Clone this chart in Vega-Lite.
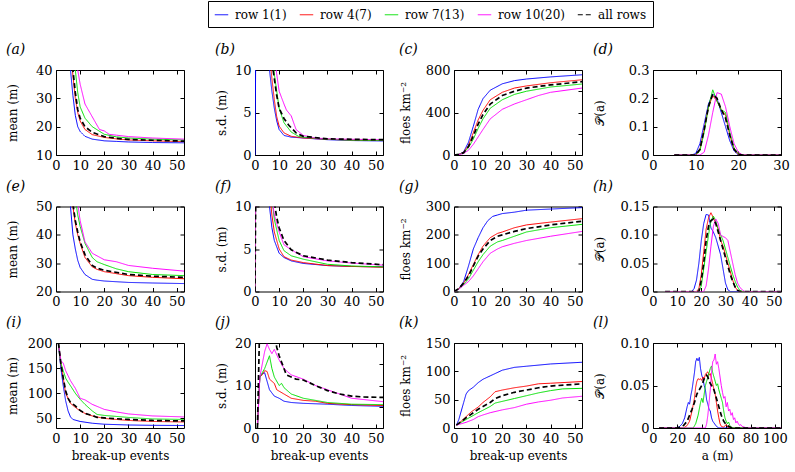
{
"$schema":"https://vega.github.io/schema/vega-lite/v6.json",
"background":"white",
"padding":{"left":5,"top":0,"right":0,"bottom":0},
"columns":4,
"bounds":"flush",
"spacing":{"row":51.5,"column":71},
"datasets":{
"a":[
{"s":"row 1(1)","x":5,"y":60},{"s":"row 1(1)","x":6,"y":40},{"s":"row 1(1)","x":7,"y":31},{"s":"row 1(1)","x":8,"y":24},{"s":"row 1(1)","x":9,"y":20},{"s":"row 1(1)","x":10,"y":18.3},{"s":"row 1(1)","x":12,"y":16.6},{"s":"row 1(1)","x":15,"y":15.6},{"s":"row 1(1)","x":20,"y":15.0},{"s":"row 1(1)","x":25,"y":14.8},{"s":"row 1(1)","x":30,"y":14.6},{"s":"row 1(1)","x":40,"y":14.4},{"s":"row 1(1)","x":53,"y":14.3},
{"s":"row 4(7)","x":5,"y":70},{"s":"row 4(7)","x":6,"y":48},{"s":"row 4(7)","x":7,"y":38},{"s":"row 4(7)","x":8,"y":30},{"s":"row 4(7)","x":9,"y":25},{"s":"row 4(7)","x":10,"y":22},{"s":"row 4(7)","x":12,"y":19},{"s":"row 4(7)","x":15,"y":17.2},{"s":"row 4(7)","x":20,"y":16.2},{"s":"row 4(7)","x":25,"y":15.7},{"s":"row 4(7)","x":30,"y":15.3},{"s":"row 4(7)","x":40,"y":15.0},{"s":"row 4(7)","x":53,"y":14.7},
{"s":"row 7(13)","x":6,"y":70},{"s":"row 7(13)","x":7,"y":50},{"s":"row 7(13)","x":8,"y":40},{"s":"row 7(13)","x":9,"y":32},{"s":"row 7(13)","x":10,"y":27},{"s":"row 7(13)","x":12,"y":23},{"s":"row 7(13)","x":15,"y":20},{"s":"row 7(13)","x":20,"y":17.3},{"s":"row 7(13)","x":25,"y":16.4},{"s":"row 7(13)","x":30,"y":16.0},{"s":"row 7(13)","x":40,"y":15.6},{"s":"row 7(13)","x":53,"y":15.3},
{"s":"row 10(20)","x":7,"y":70},{"s":"row 10(20)","x":8,"y":50},{"s":"row 10(20)","x":9,"y":40},{"s":"row 10(20)","x":10,"y":35},{"s":"row 10(20)","x":12,"y":28},{"s":"row 10(20)","x":14,"y":25},{"s":"row 10(20)","x":16,"y":22},{"s":"row 10(20)","x":18,"y":19},{"s":"row 10(20)","x":20,"y":18.5},{"s":"row 10(20)","x":22,"y":17.3},{"s":"row 10(20)","x":25,"y":17},{"s":"row 10(20)","x":30,"y":16.5},{"s":"row 10(20)","x":40,"y":16},{"s":"row 10(20)","x":53,"y":15.6},
{"s":"all rows","x":5,"y":72},{"s":"all rows","x":6,"y":50},{"s":"all rows","x":7,"y":40},{"s":"all rows","x":8,"y":32},{"s":"all rows","x":9,"y":26},{"s":"all rows","x":10,"y":23},{"s":"all rows","x":12,"y":20},{"s":"all rows","x":15,"y":18},{"s":"all rows","x":20,"y":16.5},{"s":"all rows","x":25,"y":15.9},{"s":"all rows","x":30,"y":15.5},{"s":"all rows","x":40,"y":15.2},{"s":"all rows","x":53,"y":14.9}
],
"b":[
{"s":"row 1(1)","x":0,"y":0},{"s":"row 1(1)","x":1,"y":40},{"s":"row 1(1)","x":5,"y":14},{"s":"row 1(1)","x":6,"y":10},{"s":"row 1(1)","x":7,"y":7.5},{"s":"row 1(1)","x":8,"y":5.5},{"s":"row 1(1)","x":9,"y":4},{"s":"row 1(1)","x":10,"y":3.0},{"s":"row 1(1)","x":12,"y":2.3},{"s":"row 1(1)","x":15,"y":2.1},{"s":"row 1(1)","x":20,"y":2.0},{"s":"row 1(1)","x":30,"y":1.8},{"s":"row 1(1)","x":40,"y":1.7},{"s":"row 1(1)","x":53,"y":1.65},
{"s":"row 4(7)","x":1,"y":40},{"s":"row 4(7)","x":6,"y":12},{"s":"row 4(7)","x":7,"y":9},{"s":"row 4(7)","x":8,"y":6.5},{"s":"row 4(7)","x":9,"y":4.5},{"s":"row 4(7)","x":10,"y":3.4},{"s":"row 4(7)","x":12,"y":2.6},{"s":"row 4(7)","x":15,"y":2.2},{"s":"row 4(7)","x":20,"y":2.0},{"s":"row 4(7)","x":30,"y":1.85},{"s":"row 4(7)","x":40,"y":1.75},{"s":"row 4(7)","x":53,"y":1.7},
{"s":"row 7(13)","x":1,"y":40},{"s":"row 7(13)","x":7,"y":12},{"s":"row 7(13)","x":8,"y":9.5},{"s":"row 7(13)","x":9,"y":7.5},{"s":"row 7(13)","x":10,"y":5.5},{"s":"row 7(13)","x":12,"y":3.8},{"s":"row 7(13)","x":15,"y":2.7},{"s":"row 7(13)","x":18,"y":2.2},{"s":"row 7(13)","x":20,"y":2.1},{"s":"row 7(13)","x":30,"y":1.85},{"s":"row 7(13)","x":40,"y":1.75},{"s":"row 7(13)","x":53,"y":1.7},
{"s":"row 10(20)","x":1,"y":40},{"s":"row 10(20)","x":8,"y":12},{"s":"row 10(20)","x":9,"y":9.5},{"s":"row 10(20)","x":10,"y":7.5},{"s":"row 10(20)","x":12,"y":6},{"s":"row 10(20)","x":13,"y":5.3},{"s":"row 10(20)","x":15,"y":4.6},{"s":"row 10(20)","x":17,"y":3},{"s":"row 10(20)","x":20,"y":2.3},{"s":"row 10(20)","x":25,"y":2.0},{"s":"row 10(20)","x":30,"y":1.9},{"s":"row 10(20)","x":40,"y":1.85},{"s":"row 10(20)","x":53,"y":1.8},
{"s":"all rows","x":1,"y":40},{"s":"all rows","x":7,"y":11},{"s":"all rows","x":8,"y":9},{"s":"all rows","x":9,"y":7},{"s":"all rows","x":10,"y":5.5},{"s":"all rows","x":12,"y":4.3},{"s":"all rows","x":14,"y":3.5},{"s":"all rows","x":17,"y":2.6},{"s":"all rows","x":20,"y":2.2},{"s":"all rows","x":30,"y":1.9},{"s":"all rows","x":40,"y":1.85},{"s":"all rows","x":53,"y":1.8}
],
"c":[
{"s":"row 1(1)","x":0,"y":0},{"s":"row 1(1)","x":2,"y":5},{"s":"row 1(1)","x":4,"y":30},{"s":"row 1(1)","x":6,"y":120},{"s":"row 1(1)","x":8,"y":270},{"s":"row 1(1)","x":10,"y":430},{"s":"row 1(1)","x":12,"y":530},{"s":"row 1(1)","x":15,"y":610},{"s":"row 1(1)","x":20,"y":670},{"s":"row 1(1)","x":25,"y":700},{"s":"row 1(1)","x":30,"y":715},{"s":"row 1(1)","x":40,"y":735},{"s":"row 1(1)","x":53,"y":755},
{"s":"row 4(7)","x":0,"y":0},{"s":"row 4(7)","x":2,"y":5},{"s":"row 4(7)","x":4,"y":25},{"s":"row 4(7)","x":6,"y":90},{"s":"row 4(7)","x":8,"y":210},{"s":"row 4(7)","x":10,"y":330},{"s":"row 4(7)","x":12,"y":420},{"s":"row 4(7)","x":15,"y":520},{"s":"row 4(7)","x":20,"y":590},{"s":"row 4(7)","x":25,"y":630},{"s":"row 4(7)","x":30,"y":650},{"s":"row 4(7)","x":40,"y":680},{"s":"row 4(7)","x":53,"y":708},
{"s":"row 7(13)","x":0,"y":0},{"s":"row 7(13)","x":2,"y":4},{"s":"row 7(13)","x":4,"y":20},{"s":"row 7(13)","x":6,"y":70},{"s":"row 7(13)","x":8,"y":150},{"s":"row 7(13)","x":10,"y":250},{"s":"row 7(13)","x":12,"y":340},{"s":"row 7(13)","x":15,"y":440},{"s":"row 7(13)","x":20,"y":520},{"s":"row 7(13)","x":25,"y":570},{"s":"row 7(13)","x":30,"y":600},{"s":"row 7(13)","x":40,"y":640},{"s":"row 7(13)","x":53,"y":668},
{"s":"row 10(20)","x":0,"y":0},{"s":"row 10(20)","x":2,"y":3},{"s":"row 10(20)","x":4,"y":15},{"s":"row 10(20)","x":6,"y":45},{"s":"row 10(20)","x":8,"y":100},{"s":"row 10(20)","x":10,"y":170},{"s":"row 10(20)","x":12,"y":240},{"s":"row 10(20)","x":15,"y":340},{"s":"row 10(20)","x":20,"y":430},{"s":"row 10(20)","x":25,"y":480},{"s":"row 10(20)","x":30,"y":520},{"s":"row 10(20)","x":35,"y":560},{"s":"row 10(20)","x":40,"y":590},{"s":"row 10(20)","x":53,"y":630},
{"s":"all rows","x":0,"y":0},{"s":"all rows","x":2,"y":5},{"s":"all rows","x":4,"y":22},{"s":"all rows","x":6,"y":80},{"s":"all rows","x":8,"y":180},{"s":"all rows","x":10,"y":290},{"s":"all rows","x":12,"y":380},{"s":"all rows","x":15,"y":480},{"s":"all rows","x":20,"y":560},{"s":"all rows","x":25,"y":600},{"s":"all rows","x":30,"y":630},{"s":"all rows","x":40,"y":660},{"s":"all rows","x":53,"y":690}
],
"d":[
{"s":"row 1(1)","x":5,"y":0},{"s":"row 1(1)","x":9,"y":0},{"s":"row 1(1)","x":10,"y":0.005},{"s":"row 1(1)","x":11,"y":0.04},{"s":"row 1(1)","x":12,"y":0.11},{"s":"row 1(1)","x":13,"y":0.18},{"s":"row 1(1)","x":14,"y":0.215},{"s":"row 1(1)","x":15,"y":0.2},{"s":"row 1(1)","x":16,"y":0.15},{"s":"row 1(1)","x":17,"y":0.1},{"s":"row 1(1)","x":18,"y":0.05},{"s":"row 1(1)","x":19,"y":0.015},{"s":"row 1(1)","x":20,"y":0},{"s":"row 1(1)","x":30,"y":0},
{"s":"row 4(7)","x":5,"y":0},{"s":"row 4(7)","x":10,"y":0},{"s":"row 4(7)","x":11,"y":0.02},{"s":"row 4(7)","x":12,"y":0.09},{"s":"row 4(7)","x":13,"y":0.17},{"s":"row 4(7)","x":14,"y":0.21},{"s":"row 4(7)","x":15,"y":0.19},{"s":"row 4(7)","x":16,"y":0.16},{"s":"row 4(7)","x":17,"y":0.14},{"s":"row 4(7)","x":18,"y":0.07},{"s":"row 4(7)","x":19,"y":0.02},{"s":"row 4(7)","x":20,"y":0.002},{"s":"row 4(7)","x":21,"y":0},{"s":"row 4(7)","x":30,"y":0},
{"s":"row 7(13)","x":5,"y":0},{"s":"row 7(13)","x":10,"y":0},{"s":"row 7(13)","x":11,"y":0.015},{"s":"row 7(13)","x":12,"y":0.08},{"s":"row 7(13)","x":13,"y":0.17},{"s":"row 7(13)","x":14,"y":0.23},{"s":"row 7(13)","x":15,"y":0.19},{"s":"row 7(13)","x":16,"y":0.16},{"s":"row 7(13)","x":17,"y":0.15},{"s":"row 7(13)","x":18,"y":0.08},{"s":"row 7(13)","x":19,"y":0.025},{"s":"row 7(13)","x":20,"y":0.005},{"s":"row 7(13)","x":21,"y":0},{"s":"row 7(13)","x":30,"y":0},
{"s":"row 10(20)","x":5,"y":0},{"s":"row 10(20)","x":11,"y":0},{"s":"row 10(20)","x":12,"y":0.01},{"s":"row 10(20)","x":13,"y":0.07},{"s":"row 10(20)","x":14,"y":0.15},{"s":"row 10(20)","x":15,"y":0.22},{"s":"row 10(20)","x":16,"y":0.215},{"s":"row 10(20)","x":17,"y":0.17},{"s":"row 10(20)","x":18,"y":0.1},{"s":"row 10(20)","x":19,"y":0.04},{"s":"row 10(20)","x":20,"y":0.01},{"s":"row 10(20)","x":21,"y":0},{"s":"row 10(20)","x":30,"y":0},
{"s":"all rows","x":5,"y":0},{"s":"all rows","x":10,"y":0},{"s":"all rows","x":11,"y":0.02},{"s":"all rows","x":12,"y":0.09},{"s":"all rows","x":13,"y":0.17},{"s":"all rows","x":14,"y":0.215},{"s":"all rows","x":15,"y":0.2},{"s":"all rows","x":16,"y":0.16},{"s":"all rows","x":17,"y":0.13},{"s":"all rows","x":18,"y":0.07},{"s":"all rows","x":19,"y":0.02},{"s":"all rows","x":20,"y":0.003},{"s":"all rows","x":21,"y":0},{"s":"all rows","x":30,"y":0}
],
"e":[
{"s":"row 1(1)","x":5,"y":60},{"s":"row 1(1)","x":6,"y":50},{"s":"row 1(1)","x":7,"y":40},{"s":"row 1(1)","x":8,"y":35},{"s":"row 1(1)","x":9,"y":31},{"s":"row 1(1)","x":10,"y":28.5},{"s":"row 1(1)","x":12,"y":26},{"s":"row 1(1)","x":15,"y":24.3},{"s":"row 1(1)","x":17,"y":24},{"s":"row 1(1)","x":20,"y":23.7},{"s":"row 1(1)","x":30,"y":23.2},{"s":"row 1(1)","x":40,"y":23},{"s":"row 1(1)","x":53,"y":22.8},
{"s":"row 4(7)","x":6,"y":60},{"s":"row 4(7)","x":7,"y":50},{"s":"row 4(7)","x":8,"y":44},{"s":"row 4(7)","x":9,"y":40},{"s":"row 4(7)","x":10,"y":37},{"s":"row 4(7)","x":12,"y":32},{"s":"row 4(7)","x":15,"y":28.7},{"s":"row 4(7)","x":17,"y":27.8},{"s":"row 4(7)","x":20,"y":27},{"s":"row 4(7)","x":30,"y":25.6},{"s":"row 4(7)","x":40,"y":25},{"s":"row 4(7)","x":53,"y":24.5},
{"s":"row 7(13)","x":7,"y":62},{"s":"row 7(13)","x":8,"y":53},{"s":"row 7(13)","x":9,"y":47},{"s":"row 7(13)","x":10,"y":43},{"s":"row 7(13)","x":12,"y":37},{"s":"row 7(13)","x":15,"y":32},{"s":"row 7(13)","x":17,"y":30.5},{"s":"row 7(13)","x":20,"y":29.5},{"s":"row 7(13)","x":25,"y":28},{"s":"row 7(13)","x":30,"y":27},{"s":"row 7(13)","x":40,"y":26},{"s":"row 7(13)","x":53,"y":25.6},
{"s":"row 10(20)","x":8,"y":62},{"s":"row 10(20)","x":9,"y":51},{"s":"row 10(20)","x":10,"y":45},{"s":"row 10(20)","x":12,"y":37.5},{"s":"row 10(20)","x":15,"y":33.5},{"s":"row 10(20)","x":20,"y":31.2},{"s":"row 10(20)","x":25,"y":30.5},{"s":"row 10(20)","x":30,"y":29.2},{"s":"row 10(20)","x":40,"y":28.2},{"s":"row 10(20)","x":53,"y":27.2},
{"s":"all rows","x":6,"y":62},{"s":"all rows","x":7,"y":51},{"s":"all rows","x":8,"y":45},{"s":"all rows","x":9,"y":41},{"s":"all rows","x":10,"y":37.5},{"s":"all rows","x":12,"y":33},{"s":"all rows","x":15,"y":29.2},{"s":"all rows","x":17,"y":28.2},{"s":"all rows","x":20,"y":27.5},{"s":"all rows","x":30,"y":26},{"s":"all rows","x":40,"y":25.4},{"s":"all rows","x":53,"y":25}
],
"f":[
{"s":"row 1(1)","x":0,"y":0},{"s":"row 1(1)","x":1,"y":40},{"s":"row 1(1)","x":5,"y":14},{"s":"row 1(1)","x":6,"y":10},{"s":"row 1(1)","x":7,"y":7.5},{"s":"row 1(1)","x":8,"y":6},{"s":"row 1(1)","x":10,"y":4.5},{"s":"row 1(1)","x":12,"y":4},{"s":"row 1(1)","x":15,"y":3.6},{"s":"row 1(1)","x":20,"y":3.3},{"s":"row 1(1)","x":30,"y":3.05},{"s":"row 1(1)","x":40,"y":2.95},{"s":"row 1(1)","x":53,"y":2.9},
{"s":"row 4(7)","x":0,"y":0},{"s":"row 4(7)","x":1,"y":40},{"s":"row 4(7)","x":6,"y":12},{"s":"row 4(7)","x":7,"y":9},{"s":"row 4(7)","x":8,"y":7},{"s":"row 4(7)","x":10,"y":5},{"s":"row 4(7)","x":12,"y":4.1},{"s":"row 4(7)","x":15,"y":3.7},{"s":"row 4(7)","x":20,"y":3.4},{"s":"row 4(7)","x":30,"y":3.05},{"s":"row 4(7)","x":40,"y":2.95},{"s":"row 4(7)","x":53,"y":2.85},
{"s":"row 7(13)","x":0,"y":0},{"s":"row 7(13)","x":1,"y":40},{"s":"row 7(13)","x":7,"y":11},{"s":"row 7(13)","x":8,"y":8.5},{"s":"row 7(13)","x":10,"y":6},{"s":"row 7(13)","x":12,"y":4.8},{"s":"row 7(13)","x":15,"y":4.2},{"s":"row 7(13)","x":20,"y":3.8},{"s":"row 7(13)","x":30,"y":3.2},{"s":"row 7(13)","x":40,"y":3.0},{"s":"row 7(13)","x":53,"y":2.9},
{"s":"row 10(20)","x":0,"y":0},{"s":"row 10(20)","x":1,"y":40},{"s":"row 10(20)","x":7,"y":11},{"s":"row 10(20)","x":8,"y":9},{"s":"row 10(20)","x":10,"y":7},{"s":"row 10(20)","x":12,"y":5.5},{"s":"row 10(20)","x":15,"y":4.9},{"s":"row 10(20)","x":20,"y":4.1},{"s":"row 10(20)","x":30,"y":3.6},{"s":"row 10(20)","x":40,"y":3.35},{"s":"row 10(20)","x":53,"y":3.1},
{"s":"all rows","x":0,"y":0},{"s":"all rows","x":1,"y":40},{"s":"all rows","x":8,"y":10.5},{"s":"all rows","x":9,"y":8.7},{"s":"all rows","x":10,"y":7.5},{"s":"all rows","x":12,"y":6},{"s":"all rows","x":15,"y":4.9},{"s":"all rows","x":20,"y":4.2},{"s":"all rows","x":30,"y":3.7},{"s":"all rows","x":40,"y":3.4},{"s":"all rows","x":53,"y":3.15}
],
"g":[
{"s":"row 1(1)","x":0,"y":0},{"s":"row 1(1)","x":2,"y":10},{"s":"row 1(1)","x":4,"y":35},{"s":"row 1(1)","x":6,"y":90},{"s":"row 1(1)","x":8,"y":150},{"s":"row 1(1)","x":10,"y":190},{"s":"row 1(1)","x":12,"y":225},{"s":"row 1(1)","x":14,"y":250},{"s":"row 1(1)","x":16,"y":265},{"s":"row 1(1)","x":18,"y":270},{"s":"row 1(1)","x":20,"y":275},{"s":"row 1(1)","x":25,"y":280},{"s":"row 1(1)","x":30,"y":287},{"s":"row 1(1)","x":40,"y":291},{"s":"row 1(1)","x":53,"y":296},
{"s":"row 4(7)","x":0,"y":0},{"s":"row 4(7)","x":2,"y":10},{"s":"row 4(7)","x":4,"y":30},{"s":"row 4(7)","x":6,"y":60},{"s":"row 4(7)","x":8,"y":95},{"s":"row 4(7)","x":10,"y":130},{"s":"row 4(7)","x":12,"y":160},{"s":"row 4(7)","x":15,"y":190},{"s":"row 4(7)","x":18,"y":205},{"s":"row 4(7)","x":20,"y":210},{"s":"row 4(7)","x":25,"y":225},{"s":"row 4(7)","x":30,"y":235},{"s":"row 4(7)","x":40,"y":245},{"s":"row 4(7)","x":53,"y":257},
{"s":"row 7(13)","x":0,"y":0},{"s":"row 7(13)","x":2,"y":9},{"s":"row 7(13)","x":4,"y":25},{"s":"row 7(13)","x":6,"y":45},{"s":"row 7(13)","x":8,"y":75},{"s":"row 7(13)","x":10,"y":105},{"s":"row 7(13)","x":12,"y":130},{"s":"row 7(13)","x":15,"y":160},{"s":"row 7(13)","x":18,"y":175},{"s":"row 7(13)","x":20,"y":180},{"s":"row 7(13)","x":25,"y":195},{"s":"row 7(13)","x":30,"y":210},{"s":"row 7(13)","x":40,"y":225},{"s":"row 7(13)","x":53,"y":237},
{"s":"row 10(20)","x":0,"y":0},{"s":"row 10(20)","x":2,"y":8},{"s":"row 10(20)","x":4,"y":22},{"s":"row 10(20)","x":6,"y":35},{"s":"row 10(20)","x":8,"y":55},{"s":"row 10(20)","x":10,"y":80},{"s":"row 10(20)","x":12,"y":105},{"s":"row 10(20)","x":15,"y":135},{"s":"row 10(20)","x":18,"y":150},{"s":"row 10(20)","x":20,"y":158},{"s":"row 10(20)","x":25,"y":170},{"s":"row 10(20)","x":30,"y":180},{"s":"row 10(20)","x":40,"y":195},{"s":"row 10(20)","x":53,"y":212},
{"s":"all rows","x":0,"y":0},{"s":"all rows","x":2,"y":10},{"s":"all rows","x":4,"y":30},{"s":"all rows","x":6,"y":55},{"s":"all rows","x":8,"y":90},{"s":"all rows","x":10,"y":125},{"s":"all rows","x":12,"y":150},{"s":"all rows","x":15,"y":180},{"s":"all rows","x":18,"y":195},{"s":"all rows","x":20,"y":200},{"s":"all rows","x":25,"y":212},{"s":"all rows","x":30,"y":222},{"s":"all rows","x":40,"y":235},{"s":"all rows","x":53,"y":248}
],
"h":[
{"s":"row 1(1)","x":5,"y":0},{"s":"row 1(1)","x":16,"y":0},{"s":"row 1(1)","x":17,"y":0.005},{"s":"row 1(1)","x":18,"y":0.02},{"s":"row 1(1)","x":19,"y":0.05},{"s":"row 1(1)","x":20,"y":0.09},{"s":"row 1(1)","x":21,"y":0.12},{"s":"row 1(1)","x":22,"y":0.136},{"s":"row 1(1)","x":23,"y":0.135},{"s":"row 1(1)","x":24,"y":0.112},{"s":"row 1(1)","x":25,"y":0.105},{"s":"row 1(1)","x":26,"y":0.095},{"s":"row 1(1)","x":27,"y":0.08},{"s":"row 1(1)","x":28,"y":0.065},{"s":"row 1(1)","x":29,"y":0.04},{"s":"row 1(1)","x":30,"y":0.015},{"s":"row 1(1)","x":31,"y":0.003},{"s":"row 1(1)","x":32,"y":0},{"s":"row 1(1)","x":53,"y":0},
{"s":"row 4(7)","x":5,"y":0},{"s":"row 4(7)","x":18,"y":0},{"s":"row 4(7)","x":19,"y":0.005},{"s":"row 4(7)","x":20,"y":0.03},{"s":"row 4(7)","x":21,"y":0.07},{"s":"row 4(7)","x":22,"y":0.11},{"s":"row 4(7)","x":23,"y":0.13},{"s":"row 4(7)","x":24,"y":0.139},{"s":"row 4(7)","x":25,"y":0.13},{"s":"row 4(7)","x":26,"y":0.12},{"s":"row 4(7)","x":27,"y":0.11},{"s":"row 4(7)","x":28,"y":0.09},{"s":"row 4(7)","x":29,"y":0.08},{"s":"row 4(7)","x":30,"y":0.065},{"s":"row 4(7)","x":31,"y":0.05},{"s":"row 4(7)","x":32,"y":0.035},{"s":"row 4(7)","x":33,"y":0.02},{"s":"row 4(7)","x":34,"y":0.008},{"s":"row 4(7)","x":35,"y":0.002},{"s":"row 4(7)","x":36,"y":0},{"s":"row 4(7)","x":53,"y":0},
{"s":"row 7(13)","x":5,"y":0},{"s":"row 7(13)","x":19,"y":0},{"s":"row 7(13)","x":20,"y":0.01},{"s":"row 7(13)","x":21,"y":0.04},{"s":"row 7(13)","x":22,"y":0.07},{"s":"row 7(13)","x":23,"y":0.1},{"s":"row 7(13)","x":24,"y":0.125},{"s":"row 7(13)","x":25,"y":0.133},{"s":"row 7(13)","x":26,"y":0.125},{"s":"row 7(13)","x":27,"y":0.11},{"s":"row 7(13)","x":28,"y":0.1},{"s":"row 7(13)","x":29,"y":0.09},{"s":"row 7(13)","x":30,"y":0.075},{"s":"row 7(13)","x":31,"y":0.06},{"s":"row 7(13)","x":32,"y":0.045},{"s":"row 7(13)","x":33,"y":0.03},{"s":"row 7(13)","x":34,"y":0.018},{"s":"row 7(13)","x":35,"y":0.008},{"s":"row 7(13)","x":36,"y":0.002},{"s":"row 7(13)","x":37,"y":0},{"s":"row 7(13)","x":53,"y":0},
{"s":"row 10(20)","x":5,"y":0},{"s":"row 10(20)","x":21,"y":0},{"s":"row 10(20)","x":22,"y":0.01},{"s":"row 10(20)","x":23,"y":0.04},{"s":"row 10(20)","x":24,"y":0.08},{"s":"row 10(20)","x":25,"y":0.115},{"s":"row 10(20)","x":26,"y":0.128},{"s":"row 10(20)","x":27,"y":0.12},{"s":"row 10(20)","x":28,"y":0.1},{"s":"row 10(20)","x":29,"y":0.097},{"s":"row 10(20)","x":30,"y":0.095},{"s":"row 10(20)","x":31,"y":0.09},{"s":"row 10(20)","x":32,"y":0.07},{"s":"row 10(20)","x":33,"y":0.05},{"s":"row 10(20)","x":34,"y":0.03},{"s":"row 10(20)","x":35,"y":0.015},{"s":"row 10(20)","x":36,"y":0.007},{"s":"row 10(20)","x":37,"y":0.003},{"s":"row 10(20)","x":38,"y":0},{"s":"row 10(20)","x":53,"y":0},
{"s":"all rows","x":5,"y":0},{"s":"all rows","x":19,"y":0},{"s":"all rows","x":20,"y":0.02},{"s":"all rows","x":21,"y":0.05},{"s":"all rows","x":22,"y":0.09},{"s":"all rows","x":23,"y":0.115},{"s":"all rows","x":24,"y":0.125},{"s":"all rows","x":25,"y":0.128},{"s":"all rows","x":26,"y":0.12},{"s":"all rows","x":27,"y":0.105},{"s":"all rows","x":28,"y":0.09},{"s":"all rows","x":29,"y":0.075},{"s":"all rows","x":30,"y":0.06},{"s":"all rows","x":31,"y":0.045},{"s":"all rows","x":32,"y":0.03},{"s":"all rows","x":33,"y":0.018},{"s":"all rows","x":34,"y":0.008},{"s":"all rows","x":35,"y":0.002},{"s":"all rows","x":36,"y":0},{"s":"all rows","x":53,"y":0}
],
"i":[
{"s":"row 1(1)","x":1,"y":200},{"s":"row 1(1)","x":2,"y":150},{"s":"row 1(1)","x":3,"y":115},{"s":"row 1(1)","x":4,"y":85},{"s":"row 1(1)","x":5,"y":65},{"s":"row 1(1)","x":6,"y":53},{"s":"row 1(1)","x":7,"y":48},{"s":"row 1(1)","x":10,"y":44},{"s":"row 1(1)","x":15,"y":40.5},{"s":"row 1(1)","x":20,"y":38.5},{"s":"row 1(1)","x":30,"y":37},{"s":"row 1(1)","x":40,"y":36.3},{"s":"row 1(1)","x":53,"y":36},
{"s":"row 4(7)","x":1,"y":200},{"s":"row 4(7)","x":2,"y":160},{"s":"row 4(7)","x":3,"y":130},{"s":"row 4(7)","x":4,"y":100},{"s":"row 4(7)","x":5,"y":90},{"s":"row 4(7)","x":6,"y":80},{"s":"row 4(7)","x":8,"y":72},{"s":"row 4(7)","x":10,"y":65},{"s":"row 4(7)","x":12,"y":60},{"s":"row 4(7)","x":15,"y":55},{"s":"row 4(7)","x":20,"y":50},{"s":"row 4(7)","x":30,"y":46},{"s":"row 4(7)","x":40,"y":44},{"s":"row 4(7)","x":53,"y":43},
{"s":"row 7(13)","x":1,"y":200},{"s":"row 7(13)","x":2,"y":160},{"s":"row 7(13)","x":3,"y":145},{"s":"row 7(13)","x":4,"y":130},{"s":"row 7(13)","x":5,"y":122},{"s":"row 7(13)","x":6,"y":115},{"s":"row 7(13)","x":8,"y":100},{"s":"row 7(13)","x":10,"y":88},{"s":"row 7(13)","x":12,"y":78},{"s":"row 7(13)","x":15,"y":65},{"s":"row 7(13)","x":17,"y":58},{"s":"row 7(13)","x":20,"y":56},{"s":"row 7(13)","x":30,"y":52},{"s":"row 7(13)","x":40,"y":49},{"s":"row 7(13)","x":53,"y":48},
{"s":"row 10(20)","x":1,"y":200},{"s":"row 10(20)","x":2,"y":165},{"s":"row 10(20)","x":3,"y":160},{"s":"row 10(20)","x":4,"y":145},{"s":"row 10(20)","x":5,"y":135},{"s":"row 10(20)","x":6,"y":125},{"s":"row 10(20)","x":8,"y":110},{"s":"row 10(20)","x":10,"y":90},{"s":"row 10(20)","x":12,"y":87},{"s":"row 10(20)","x":15,"y":78},{"s":"row 10(20)","x":18,"y":72},{"s":"row 10(20)","x":20,"y":68},{"s":"row 10(20)","x":25,"y":63},{"s":"row 10(20)","x":30,"y":59},{"s":"row 10(20)","x":40,"y":55},{"s":"row 10(20)","x":53,"y":53},
{"s":"all rows","x":1,"y":200},{"s":"all rows","x":2,"y":160},{"s":"all rows","x":3,"y":130},{"s":"all rows","x":4,"y":105},{"s":"all rows","x":5,"y":90},{"s":"all rows","x":6,"y":82},{"s":"all rows","x":8,"y":75},{"s":"all rows","x":10,"y":66},{"s":"all rows","x":12,"y":60},{"s":"all rows","x":15,"y":56},{"s":"all rows","x":17,"y":52},{"s":"all rows","x":20,"y":51},{"s":"all rows","x":30,"y":48},{"s":"all rows","x":40,"y":46},{"s":"all rows","x":53,"y":45}
],
"j":[
{"s":"row 1(1)","x":1,"y":0},{"s":"row 1(1)","x":2,"y":12},{"s":"row 1(1)","x":3,"y":12.8},{"s":"row 1(1)","x":4,"y":13},{"s":"row 1(1)","x":5,"y":11},{"s":"row 1(1)","x":6,"y":9},{"s":"row 1(1)","x":8,"y":7.5},{"s":"row 1(1)","x":10,"y":7},{"s":"row 1(1)","x":12,"y":6.3},{"s":"row 1(1)","x":15,"y":6},{"s":"row 1(1)","x":20,"y":5.8},{"s":"row 1(1)","x":30,"y":5.6},{"s":"row 1(1)","x":40,"y":5.3},{"s":"row 1(1)","x":53,"y":5.1},
{"s":"row 4(7)","x":1,"y":0},{"s":"row 4(7)","x":2,"y":12},{"s":"row 4(7)","x":3,"y":12.5},{"s":"row 4(7)","x":4,"y":13.5},{"s":"row 4(7)","x":5,"y":13.3},{"s":"row 4(7)","x":6,"y":11.5},{"s":"row 4(7)","x":8,"y":10.5},{"s":"row 4(7)","x":9,"y":9},{"s":"row 4(7)","x":12,"y":8},{"s":"row 4(7)","x":15,"y":7},{"s":"row 4(7)","x":20,"y":6.5},{"s":"row 4(7)","x":25,"y":6.3},{"s":"row 4(7)","x":30,"y":5.8},{"s":"row 4(7)","x":40,"y":5.5},{"s":"row 4(7)","x":53,"y":5.3},
{"s":"row 7(13)","x":1,"y":0},{"s":"row 7(13)","x":2,"y":12},{"s":"row 7(13)","x":3,"y":13},{"s":"row 7(13)","x":4,"y":14},{"s":"row 7(13)","x":5,"y":15.5},{"s":"row 7(13)","x":6,"y":17},{"s":"row 7(13)","x":7,"y":14},{"s":"row 7(13)","x":8,"y":12},{"s":"row 7(13)","x":10,"y":10},{"s":"row 7(13)","x":11,"y":10.5},{"s":"row 7(13)","x":12,"y":9.5},{"s":"row 7(13)","x":15,"y":8},{"s":"row 7(13)","x":20,"y":7},{"s":"row 7(13)","x":30,"y":6},{"s":"row 7(13)","x":40,"y":5.6},{"s":"row 7(13)","x":53,"y":5.5},
{"s":"row 10(20)","x":1,"y":0},{"s":"row 10(20)","x":2,"y":12},{"s":"row 10(20)","x":3,"y":15},{"s":"row 10(20)","x":4,"y":18},{"s":"row 10(20)","x":5,"y":19.8},{"s":"row 10(20)","x":6,"y":18.5},{"s":"row 10(20)","x":7,"y":17.5},{"s":"row 10(20)","x":8,"y":18.5},{"s":"row 10(20)","x":10,"y":16},{"s":"row 10(20)","x":12,"y":14},{"s":"row 10(20)","x":15,"y":12.5},{"s":"row 10(20)","x":20,"y":11.5},{"s":"row 10(20)","x":25,"y":10},{"s":"row 10(20)","x":30,"y":9},{"s":"row 10(20)","x":40,"y":7},{"s":"row 10(20)","x":53,"y":6.2},
{"s":"all rows","x":1,"y":0},{"s":"all rows","x":2,"y":26},{"s":"all rows","x":8,"y":22},{"s":"all rows","x":9,"y":19},{"s":"all rows","x":10,"y":17},{"s":"all rows","x":12,"y":14},{"s":"all rows","x":13,"y":12.5},{"s":"all rows","x":15,"y":12},{"s":"all rows","x":17,"y":11.5},{"s":"all rows","x":20,"y":11.3},{"s":"all rows","x":25,"y":10},{"s":"all rows","x":30,"y":8.8},{"s":"all rows","x":35,"y":8},{"s":"all rows","x":40,"y":7.5},{"s":"all rows","x":45,"y":7.3},{"s":"all rows","x":53,"y":7.2}
],
"k":[
{"s":"row 1(1)","x":1,"y":5},{"s":"row 1(1)","x":2,"y":15},{"s":"row 1(1)","x":3,"y":30},{"s":"row 1(1)","x":4,"y":45},{"s":"row 1(1)","x":5,"y":60},{"s":"row 1(1)","x":6,"y":66},{"s":"row 1(1)","x":8,"y":72},{"s":"row 1(1)","x":10,"y":80},{"s":"row 1(1)","x":12,"y":86},{"s":"row 1(1)","x":15,"y":92},{"s":"row 1(1)","x":20,"y":102},{"s":"row 1(1)","x":25,"y":107},{"s":"row 1(1)","x":30,"y":109},{"s":"row 1(1)","x":40,"y":113},{"s":"row 1(1)","x":53,"y":116},
{"s":"row 4(7)","x":1,"y":5},{"s":"row 4(7)","x":3,"y":12},{"s":"row 4(7)","x":5,"y":20},{"s":"row 4(7)","x":7,"y":28},{"s":"row 4(7)","x":10,"y":37},{"s":"row 4(7)","x":12,"y":45},{"s":"row 4(7)","x":15,"y":55},{"s":"row 4(7)","x":17,"y":64},{"s":"row 4(7)","x":20,"y":67},{"s":"row 4(7)","x":25,"y":71},{"s":"row 4(7)","x":30,"y":74},{"s":"row 4(7)","x":35,"y":78},{"s":"row 4(7)","x":40,"y":79},{"s":"row 4(7)","x":53,"y":82},
{"s":"row 7(13)","x":1,"y":5},{"s":"row 7(13)","x":5,"y":15},{"s":"row 7(13)","x":10,"y":27},{"s":"row 7(13)","x":15,"y":38},{"s":"row 7(13)","x":17,"y":44},{"s":"row 7(13)","x":20,"y":47},{"s":"row 7(13)","x":25,"y":52},{"s":"row 7(13)","x":30,"y":57},{"s":"row 7(13)","x":35,"y":62},{"s":"row 7(13)","x":40,"y":66},{"s":"row 7(13)","x":45,"y":69},{"s":"row 7(13)","x":53,"y":70},
{"s":"row 10(20)","x":1,"y":5},{"s":"row 10(20)","x":5,"y":10},{"s":"row 10(20)","x":8,"y":15},{"s":"row 10(20)","x":10,"y":20},{"s":"row 10(20)","x":12,"y":23},{"s":"row 10(20)","x":15,"y":27},{"s":"row 10(20)","x":20,"y":32},{"s":"row 10(20)","x":25,"y":36},{"s":"row 10(20)","x":30,"y":42},{"s":"row 10(20)","x":35,"y":46},{"s":"row 10(20)","x":40,"y":49},{"s":"row 10(20)","x":45,"y":53},{"s":"row 10(20)","x":53,"y":56},
{"s":"all rows","x":1,"y":5},{"s":"all rows","x":5,"y":18},{"s":"all rows","x":10,"y":33},{"s":"all rows","x":15,"y":45},{"s":"all rows","x":17,"y":52},{"s":"all rows","x":20,"y":57},{"s":"all rows","x":25,"y":63},{"s":"all rows","x":30,"y":67},{"s":"all rows","x":35,"y":71},{"s":"all rows","x":40,"y":74},{"s":"all rows","x":53,"y":78}
],
"l":[
{"s":"row 1(1)","x":5,"y":0},{"s":"row 1(1)","x":20,"y":0},{"s":"row 1(1)","x":22,"y":0.002},{"s":"row 1(1)","x":24,"y":0.005},{"s":"row 1(1)","x":26,"y":0.012},{"s":"row 1(1)","x":28,"y":0.025},{"s":"row 1(1)","x":29,"y":0.03},{"s":"row 1(1)","x":30,"y":0.028},{"s":"row 1(1)","x":31,"y":0.038},{"s":"row 1(1)","x":32,"y":0.045},{"s":"row 1(1)","x":33,"y":0.055},{"s":"row 1(1)","x":34,"y":0.065},{"s":"row 1(1)","x":35,"y":0.078},{"s":"row 1(1)","x":36,"y":0.082},{"s":"row 1(1)","x":37,"y":0.079},{"s":"row 1(1)","x":38,"y":0.083},{"s":"row 1(1)","x":39,"y":0.07},{"s":"row 1(1)","x":40,"y":0.062},{"s":"row 1(1)","x":41,"y":0.058},{"s":"row 1(1)","x":42,"y":0.05},{"s":"row 1(1)","x":43,"y":0.045},{"s":"row 1(1)","x":44,"y":0.033},{"s":"row 1(1)","x":45,"y":0.028},{"s":"row 1(1)","x":46,"y":0.022},{"s":"row 1(1)","x":47,"y":0.02},{"s":"row 1(1)","x":48,"y":0.012},{"s":"row 1(1)","x":49,"y":0.008},{"s":"row 1(1)","x":50,"y":0.006},{"s":"row 1(1)","x":52,"y":0.002},{"s":"row 1(1)","x":54,"y":0},{"s":"row 1(1)","x":105,"y":0},
{"s":"row 4(7)","x":5,"y":0},{"s":"row 4(7)","x":25,"y":0},{"s":"row 4(7)","x":28,"y":0.003},{"s":"row 4(7)","x":30,"y":0.008},{"s":"row 4(7)","x":32,"y":0.02},{"s":"row 4(7)","x":34,"y":0.035},{"s":"row 4(7)","x":35,"y":0.048},{"s":"row 4(7)","x":36,"y":0.055},{"s":"row 4(7)","x":37,"y":0.058},{"s":"row 4(7)","x":38,"y":0.057},{"s":"row 4(7)","x":39,"y":0.058},{"s":"row 4(7)","x":40,"y":0.056},{"s":"row 4(7)","x":41,"y":0.06},{"s":"row 4(7)","x":42,"y":0.058},{"s":"row 4(7)","x":43,"y":0.063},{"s":"row 4(7)","x":44,"y":0.065},{"s":"row 4(7)","x":45,"y":0.066},{"s":"row 4(7)","x":46,"y":0.062},{"s":"row 4(7)","x":47,"y":0.064},{"s":"row 4(7)","x":48,"y":0.058},{"s":"row 4(7)","x":49,"y":0.052},{"s":"row 4(7)","x":50,"y":0.045},{"s":"row 4(7)","x":51,"y":0.04},{"s":"row 4(7)","x":52,"y":0.03},{"s":"row 4(7)","x":53,"y":0.02},{"s":"row 4(7)","x":54,"y":0.012},{"s":"row 4(7)","x":55,"y":0.005},{"s":"row 4(7)","x":56,"y":0.002},{"s":"row 4(7)","x":58,"y":0.001},{"s":"row 4(7)","x":60,"y":0.004},{"s":"row 4(7)","x":62,"y":0},{"s":"row 4(7)","x":105,"y":0},
{"s":"row 7(13)","x":5,"y":0},{"s":"row 7(13)","x":33,"y":0},{"s":"row 7(13)","x":35,"y":0.005},{"s":"row 7(13)","x":37,"y":0.015},{"s":"row 7(13)","x":39,"y":0.03},{"s":"row 7(13)","x":40,"y":0.035},{"s":"row 7(13)","x":41,"y":0.03},{"s":"row 7(13)","x":42,"y":0.04},{"s":"row 7(13)","x":43,"y":0.05},{"s":"row 7(13)","x":44,"y":0.055},{"s":"row 7(13)","x":45,"y":0.06},{"s":"row 7(13)","x":46,"y":0.065},{"s":"row 7(13)","x":47,"y":0.07},{"s":"row 7(13)","x":48,"y":0.073},{"s":"row 7(13)","x":49,"y":0.065},{"s":"row 7(13)","x":50,"y":0.06},{"s":"row 7(13)","x":51,"y":0.055},{"s":"row 7(13)","x":52,"y":0.05},{"s":"row 7(13)","x":53,"y":0.052},{"s":"row 7(13)","x":54,"y":0.045},{"s":"row 7(13)","x":55,"y":0.04},{"s":"row 7(13)","x":56,"y":0.035},{"s":"row 7(13)","x":57,"y":0.03},{"s":"row 7(13)","x":58,"y":0.02},{"s":"row 7(13)","x":59,"y":0.012},{"s":"row 7(13)","x":60,"y":0.008},{"s":"row 7(13)","x":61,"y":0.005},{"s":"row 7(13)","x":62,"y":0.007},{"s":"row 7(13)","x":63,"y":0.003},{"s":"row 7(13)","x":65,"y":0},{"s":"row 7(13)","x":105,"y":0},
{"s":"row 10(20)","x":5,"y":0},{"s":"row 10(20)","x":43,"y":0},{"s":"row 10(20)","x":44,"y":0.005},{"s":"row 10(20)","x":45,"y":0.015},{"s":"row 10(20)","x":46,"y":0.03},{"s":"row 10(20)","x":47,"y":0.045},{"s":"row 10(20)","x":48,"y":0.065},{"s":"row 10(20)","x":49,"y":0.078},{"s":"row 10(20)","x":50,"y":0.08},{"s":"row 10(20)","x":51,"y":0.087},{"s":"row 10(20)","x":52,"y":0.075},{"s":"row 10(20)","x":53,"y":0.078},{"s":"row 10(20)","x":54,"y":0.07},{"s":"row 10(20)","x":55,"y":0.06},{"s":"row 10(20)","x":56,"y":0.05},{"s":"row 10(20)","x":57,"y":0.042},{"s":"row 10(20)","x":58,"y":0.035},{"s":"row 10(20)","x":59,"y":0.037},{"s":"row 10(20)","x":60,"y":0.025},{"s":"row 10(20)","x":61,"y":0.03},{"s":"row 10(20)","x":62,"y":0.02},{"s":"row 10(20)","x":63,"y":0.022},{"s":"row 10(20)","x":64,"y":0.015},{"s":"row 10(20)","x":65,"y":0.018},{"s":"row 10(20)","x":66,"y":0.01},{"s":"row 10(20)","x":67,"y":0.012},{"s":"row 10(20)","x":68,"y":0.006},{"s":"row 10(20)","x":69,"y":0.008},{"s":"row 10(20)","x":70,"y":0.005},{"s":"row 10(20)","x":71,"y":0.003},{"s":"row 10(20)","x":72,"y":0.004},{"s":"row 10(20)","x":73,"y":0.002},{"s":"row 10(20)","x":75,"y":0.001},{"s":"row 10(20)","x":77,"y":0},{"s":"row 10(20)","x":105,"y":0},
{"s":"all rows","x":5,"y":0},{"s":"all rows","x":20,"y":0},{"s":"all rows","x":25,"y":0.003},{"s":"all rows","x":28,"y":0.008},{"s":"all rows","x":30,"y":0.015},{"s":"all rows","x":32,"y":0.022},{"s":"all rows","x":34,"y":0.03},{"s":"all rows","x":36,"y":0.04},{"s":"all rows","x":38,"y":0.045},{"s":"all rows","x":40,"y":0.05},{"s":"all rows","x":42,"y":0.058},{"s":"all rows","x":44,"y":0.062},{"s":"all rows","x":45,"y":0.06},{"s":"all rows","x":46,"y":0.055},{"s":"all rows","x":48,"y":0.05},{"s":"all rows","x":50,"y":0.045},{"s":"all rows","x":52,"y":0.035},{"s":"all rows","x":54,"y":0.025},{"s":"all rows","x":56,"y":0.015},{"s":"all rows","x":58,"y":0.008},{"s":"all rows","x":60,"y":0.004},{"s":"all rows","x":62,"y":0.002},{"s":"all rows","x":65,"y":0},{"s":"all rows","x":105,"y":0}
]
},
"concat":[
{"title":"(a)","width":128,"height":85,"data":{"name":"a"},"resolve":{"axis":{"x":"independent","y":"independent"}},
"encoding":{
"color":{"field":"s","type":"nominal","title":null,"scale":{"domain":["row 1(1)","row 4(7)","row 7(13)","row 10(20)","all rows"],"range":["#0000ff","#ff0000","#00e000","#ff00ff","#000000"]}},
"strokeDash":{"field":"s","type":"nominal","title":null,"scale":{"domain":["row 1(1)","row 4(7)","row 7(13)","row 10(20)","all rows"],"range":[[1,0],[1,0],[1,0],[1,0],[5,3]]}},
"strokeWidth":{"condition":{"test":"datum.s == 'all rows'","value":1.7},"value":1}},
"layer":[
{"mark":{"type":"line","clip":true},"encoding":{
"x":{"field":"x","type":"quantitative","scale":{"domain":[0,53],"nice":false},"axis":{"values":[0,10,20,30,40,50],"title":null}},
"y":{"field":"y","type":"quantitative","scale":{"domain":[10,40],"nice":false,"zero":false},"axis":{"values":[10,20,30,40],"title":"mean (m)","titlePadding":37}}}},
{"transform":[{"filter":"false"}],"mark":{"type":"line"},"encoding":{
"x":{"field":"x","type":"quantitative","scale":{"domain":[0,53],"nice":false},"axis":{"orient":"top","values":[0,10,20,30,40,50],"labels":false,"title":null}},
"y":{"field":"y","type":"quantitative","scale":{"domain":[10,40],"nice":false,"zero":false},"axis":{"orient":"right","values":[10,20,30,40],"labels":false,"title":null}}}}]},
{"title":"(b)","width":128,"height":85,"data":{"name":"b"},"resolve":{"axis":{"x":"independent","y":"independent"}},
"encoding":{
"color":{"field":"s","type":"nominal","title":null,"scale":{"domain":["row 1(1)","row 4(7)","row 7(13)","row 10(20)","all rows"],"range":["#0000ff","#ff0000","#00e000","#ff00ff","#000000"]}},
"strokeDash":{"field":"s","type":"nominal","title":null,"scale":{"domain":["row 1(1)","row 4(7)","row 7(13)","row 10(20)","all rows"],"range":[[1,0],[1,0],[1,0],[1,0],[5,3]]}},
"strokeWidth":{"condition":{"test":"datum.s == 'all rows'","value":1.7},"value":1}},
"layer":[
{"mark":{"type":"line","clip":true},"encoding":{
"x":{"field":"x","type":"quantitative","scale":{"domain":[0,53],"nice":false},"axis":{"values":[0,10,20,30,40,50],"title":null}},
"y":{"field":"y","type":"quantitative","scale":{"domain":[0,10],"nice":false},"axis":{"values":[0,5,10],"title":"s.d. (m)","titlePadding":27}}}},
{"transform":[{"filter":"false"}],"mark":{"type":"line"},"encoding":{
"x":{"field":"x","type":"quantitative","scale":{"domain":[0,53],"nice":false},"axis":{"orient":"top","values":[0,10,20,30,40,50],"labels":false,"title":null}},
"y":{"field":"y","type":"quantitative","scale":{"domain":[0,10],"nice":false},"axis":{"orient":"right","values":[0,5,10],"labels":false,"title":null}}}}]},
{"title":"(c)","width":128,"height":85,"data":{"name":"c"},"resolve":{"axis":{"x":"independent","y":"independent"}},
"encoding":{
"color":{"field":"s","type":"nominal","title":null,"scale":{"domain":["row 1(1)","row 4(7)","row 7(13)","row 10(20)","all rows"],"range":["#0000ff","#ff0000","#00e000","#ff00ff","#000000"]}},
"strokeDash":{"field":"s","type":"nominal","title":null,"scale":{"domain":["row 1(1)","row 4(7)","row 7(13)","row 10(20)","all rows"],"range":[[1,0],[1,0],[1,0],[1,0],[5,3]]}},
"strokeWidth":{"condition":{"test":"datum.s == 'all rows'","value":1.7},"value":1}},
"layer":[
{"mark":{"type":"line","clip":true},"encoding":{
"x":{"field":"x","type":"quantitative","scale":{"domain":[0,53],"nice":false},"axis":{"values":[0,10,20,30,40,50],"title":null}},
"y":{"field":"y","type":"quantitative","scale":{"domain":[0,800],"nice":false},"axis":{"values":[0,400,800],"title":"floes km⁻²","titlePadding":42}}}},
{"transform":[{"filter":"false"}],"mark":{"type":"line"},"encoding":{
"x":{"field":"x","type":"quantitative","scale":{"domain":[0,53],"nice":false},"axis":{"orient":"top","values":[0,10,20,30,40,50],"labels":false,"title":null}},
"y":{"field":"y","type":"quantitative","scale":{"domain":[0,800],"nice":false},"axis":{"orient":"right","values":[0,200,400,600,800],"labels":false,"title":null}}}}]},
{"title":"(d)","width":128,"height":85,"data":{"name":"d"},"resolve":{"axis":{"x":"independent","y":"independent"}},
"encoding":{
"color":{"field":"s","type":"nominal","title":null,"scale":{"domain":["row 1(1)","row 4(7)","row 7(13)","row 10(20)","all rows"],"range":["#0000ff","#ff0000","#00e000","#ff00ff","#000000"]}},
"strokeDash":{"field":"s","type":"nominal","title":null,"scale":{"domain":["row 1(1)","row 4(7)","row 7(13)","row 10(20)","all rows"],"range":[[1,0],[1,0],[1,0],[1,0],[5,3]]}},
"strokeWidth":{"condition":{"test":"datum.s == 'all rows'","value":1.7},"value":1}},
"layer":[
{"mark":{"type":"line","clip":true},"encoding":{
"x":{"field":"x","type":"quantitative","scale":{"domain":[0,30],"nice":false},"axis":{"values":[0,10,20,30],"title":null}},
"y":{"field":"y","type":"quantitative","scale":{"domain":[0,0.3],"nice":false},"axis":{"values":[0,0.1,0.2,0.3],"labelExpr":"datum.value == 0 ? '0' : format(datum.value, '.1f')","title":"𝒫(a)","titlePadding":47}}}},
{"transform":[{"filter":"false"}],"mark":{"type":"line"},"encoding":{
"x":{"field":"x","type":"quantitative","scale":{"domain":[0,30],"nice":false},"axis":{"orient":"top","values":[0,10,20,30],"labels":false,"title":null}},
"y":{"field":"y","type":"quantitative","scale":{"domain":[0,0.3],"nice":false},"axis":{"orient":"right","values":[0,0.1,0.2,0.3],"labels":false,"title":null}}}}]},
{"title":"(e)","width":128,"height":85,"data":{"name":"e"},"resolve":{"axis":{"x":"independent","y":"independent"}},
"encoding":{
"color":{"field":"s","type":"nominal","title":null,"scale":{"domain":["row 1(1)","row 4(7)","row 7(13)","row 10(20)","all rows"],"range":["#0000ff","#ff0000","#00e000","#ff00ff","#000000"]}},
"strokeDash":{"field":"s","type":"nominal","title":null,"scale":{"domain":["row 1(1)","row 4(7)","row 7(13)","row 10(20)","all rows"],"range":[[1,0],[1,0],[1,0],[1,0],[5,3]]}},
"strokeWidth":{"condition":{"test":"datum.s == 'all rows'","value":1.7},"value":1}},
"layer":[
{"mark":{"type":"line","clip":true},"encoding":{
"x":{"field":"x","type":"quantitative","scale":{"domain":[0,53],"nice":false},"axis":{"values":[0,10,20,30,40,50],"title":null}},
"y":{"field":"y","type":"quantitative","scale":{"domain":[20,50],"nice":false,"zero":false},"axis":{"values":[20,30,40,50],"title":"mean (m)","titlePadding":37}}}},
{"transform":[{"filter":"false"}],"mark":{"type":"line"},"encoding":{
"x":{"field":"x","type":"quantitative","scale":{"domain":[0,53],"nice":false},"axis":{"orient":"top","values":[0,10,20,30,40,50],"labels":false,"title":null}},
"y":{"field":"y","type":"quantitative","scale":{"domain":[20,50],"nice":false,"zero":false},"axis":{"orient":"right","values":[20,30,40,50],"labels":false,"title":null}}}}]},
{"title":"(f)","width":128,"height":85,"data":{"name":"f"},"resolve":{"axis":{"x":"independent","y":"independent"}},
"encoding":{
"color":{"field":"s","type":"nominal","title":null,"scale":{"domain":["row 1(1)","row 4(7)","row 7(13)","row 10(20)","all rows"],"range":["#0000ff","#ff0000","#00e000","#ff00ff","#000000"]}},
"strokeDash":{"field":"s","type":"nominal","title":null,"scale":{"domain":["row 1(1)","row 4(7)","row 7(13)","row 10(20)","all rows"],"range":[[1,0],[1,0],[1,0],[1,0],[5,3]]}},
"strokeWidth":{"condition":{"test":"datum.s == 'all rows'","value":1.7},"value":1}},
"layer":[
{"mark":{"type":"line","clip":true},"encoding":{
"x":{"field":"x","type":"quantitative","scale":{"domain":[0,53],"nice":false},"axis":{"values":[0,10,20,30,40,50],"title":null}},
"y":{"field":"y","type":"quantitative","scale":{"domain":[0,10],"nice":false},"axis":{"values":[0,5,10],"title":"s.d. (m)","titlePadding":27}}}},
{"transform":[{"filter":"false"}],"mark":{"type":"line"},"encoding":{
"x":{"field":"x","type":"quantitative","scale":{"domain":[0,53],"nice":false},"axis":{"orient":"top","values":[0,10,20,30,40,50],"labels":false,"title":null}},
"y":{"field":"y","type":"quantitative","scale":{"domain":[0,10],"nice":false},"axis":{"orient":"right","values":[0,5,10],"labels":false,"title":null}}}}]},
{"title":"(g)","width":128,"height":85,"data":{"name":"g"},"resolve":{"axis":{"x":"independent","y":"independent"}},
"encoding":{
"color":{"field":"s","type":"nominal","title":null,"scale":{"domain":["row 1(1)","row 4(7)","row 7(13)","row 10(20)","all rows"],"range":["#0000ff","#ff0000","#00e000","#ff00ff","#000000"]}},
"strokeDash":{"field":"s","type":"nominal","title":null,"scale":{"domain":["row 1(1)","row 4(7)","row 7(13)","row 10(20)","all rows"],"range":[[1,0],[1,0],[1,0],[1,0],[5,3]]}},
"strokeWidth":{"condition":{"test":"datum.s == 'all rows'","value":1.7},"value":1}},
"layer":[
{"mark":{"type":"line","clip":true},"encoding":{
"x":{"field":"x","type":"quantitative","scale":{"domain":[0,53],"nice":false},"axis":{"values":[0,10,20,30,40,50],"title":null}},
"y":{"field":"y","type":"quantitative","scale":{"domain":[0,300],"nice":false},"axis":{"values":[0,100,200,300],"title":"floes km⁻²","titlePadding":42}}}},
{"transform":[{"filter":"false"}],"mark":{"type":"line"},"encoding":{
"x":{"field":"x","type":"quantitative","scale":{"domain":[0,53],"nice":false},"axis":{"orient":"top","values":[0,10,20,30,40,50],"labels":false,"title":null}},
"y":{"field":"y","type":"quantitative","scale":{"domain":[0,300],"nice":false},"axis":{"orient":"right","values":[0,100,200,300],"labels":false,"title":null}}}}]},
{"title":"(h)","width":128,"height":85,"data":{"name":"h"},"resolve":{"axis":{"x":"independent","y":"independent"}},
"encoding":{
"color":{"field":"s","type":"nominal","title":null,"scale":{"domain":["row 1(1)","row 4(7)","row 7(13)","row 10(20)","all rows"],"range":["#0000ff","#ff0000","#00e000","#ff00ff","#000000"]}},
"strokeDash":{"field":"s","type":"nominal","title":null,"scale":{"domain":["row 1(1)","row 4(7)","row 7(13)","row 10(20)","all rows"],"range":[[1,0],[1,0],[1,0],[1,0],[5,3]]}},
"strokeWidth":{"condition":{"test":"datum.s == 'all rows'","value":1.7},"value":1}},
"layer":[
{"mark":{"type":"line","clip":true},"encoding":{
"x":{"field":"x","type":"quantitative","scale":{"domain":[0,53],"nice":false},"axis":{"values":[0,10,20,30,40,50],"title":null}},
"y":{"field":"y","type":"quantitative","scale":{"domain":[0,0.15],"nice":false},"axis":{"values":[0,0.05,0.1,0.15],"labelExpr":"datum.value == 0 ? '0' : format(datum.value, '.2f')","title":"𝒫(a)","titlePadding":47}}}},
{"transform":[{"filter":"false"}],"mark":{"type":"line"},"encoding":{
"x":{"field":"x","type":"quantitative","scale":{"domain":[0,53],"nice":false},"axis":{"orient":"top","values":[0,10,20,30,40,50],"labels":false,"title":null}},
"y":{"field":"y","type":"quantitative","scale":{"domain":[0,0.15],"nice":false},"axis":{"orient":"right","values":[0,0.05,0.1,0.15],"labels":false,"title":null}}}}]},
{"title":"(i)","width":128,"height":85,"data":{"name":"i"},"resolve":{"axis":{"x":"independent","y":"independent"}},
"encoding":{
"color":{"field":"s","type":"nominal","title":null,"scale":{"domain":["row 1(1)","row 4(7)","row 7(13)","row 10(20)","all rows"],"range":["#0000ff","#ff0000","#00e000","#ff00ff","#000000"]}},
"strokeDash":{"field":"s","type":"nominal","title":null,"scale":{"domain":["row 1(1)","row 4(7)","row 7(13)","row 10(20)","all rows"],"range":[[1,0],[1,0],[1,0],[1,0],[5,3]]}},
"strokeWidth":{"condition":{"test":"datum.s == 'all rows'","value":1.7},"value":1}},
"layer":[
{"mark":{"type":"line","clip":true},"encoding":{
"x":{"field":"x","type":"quantitative","scale":{"domain":[0,53],"nice":false},"axis":{"values":[0,10,20,30,40,50],"title":"break-up events"}},
"y":{"field":"y","type":"quantitative","scale":{"domain":[31,200],"nice":false,"zero":false},"axis":{"values":[50,100,150,200],"title":"mean (m)","titlePadding":37}}}},
{"transform":[{"filter":"false"}],"mark":{"type":"line"},"encoding":{
"x":{"field":"x","type":"quantitative","scale":{"domain":[0,53],"nice":false},"axis":{"orient":"top","values":[0,10,20,30,40,50],"labels":false,"title":null}},
"y":{"field":"y","type":"quantitative","scale":{"domain":[31,200],"nice":false,"zero":false},"axis":{"orient":"right","values":[50,100,150,200],"labels":false,"title":null}}}}]},
{"title":"(j)","width":128,"height":85,"data":{"name":"j"},"resolve":{"axis":{"x":"independent","y":"independent"}},
"encoding":{
"color":{"field":"s","type":"nominal","title":null,"scale":{"domain":["row 1(1)","row 4(7)","row 7(13)","row 10(20)","all rows"],"range":["#0000ff","#ff0000","#00e000","#ff00ff","#000000"]}},
"strokeDash":{"field":"s","type":"nominal","title":null,"scale":{"domain":["row 1(1)","row 4(7)","row 7(13)","row 10(20)","all rows"],"range":[[1,0],[1,0],[1,0],[1,0],[5,3]]}},
"strokeWidth":{"condition":{"test":"datum.s == 'all rows'","value":1.7},"value":1}},
"layer":[
{"mark":{"type":"line","clip":true},"encoding":{
"x":{"field":"x","type":"quantitative","scale":{"domain":[0,53],"nice":false},"axis":{"values":[0,10,20,30,40,50],"title":"break-up events"}},
"y":{"field":"y","type":"quantitative","scale":{"domain":[0,20],"nice":false},"axis":{"values":[0,10,20],"title":"s.d. (m)","titlePadding":27}}}},
{"transform":[{"filter":"false"}],"mark":{"type":"line"},"encoding":{
"x":{"field":"x","type":"quantitative","scale":{"domain":[0,53],"nice":false},"axis":{"orient":"top","values":[0,10,20,30,40,50],"labels":false,"title":null}},
"y":{"field":"y","type":"quantitative","scale":{"domain":[0,20],"nice":false},"axis":{"orient":"right","values":[0,5,10,15,20],"labels":false,"title":null}}}}]},
{"title":"(k)","width":128,"height":85,"data":{"name":"k"},"resolve":{"axis":{"x":"independent","y":"independent"}},
"encoding":{
"color":{"field":"s","type":"nominal","title":null,"scale":{"domain":["row 1(1)","row 4(7)","row 7(13)","row 10(20)","all rows"],"range":["#0000ff","#ff0000","#00e000","#ff00ff","#000000"]}},
"strokeDash":{"field":"s","type":"nominal","title":null,"scale":{"domain":["row 1(1)","row 4(7)","row 7(13)","row 10(20)","all rows"],"range":[[1,0],[1,0],[1,0],[1,0],[5,3]]}},
"strokeWidth":{"condition":{"test":"datum.s == 'all rows'","value":1.7},"value":1}},
"layer":[
{"mark":{"type":"line","clip":true},"encoding":{
"x":{"field":"x","type":"quantitative","scale":{"domain":[0,53],"nice":false},"axis":{"values":[0,10,20,30,40,50],"title":"break-up events"}},
"y":{"field":"y","type":"quantitative","scale":{"domain":[0,150],"nice":false},"axis":{"values":[0,50,100,150],"title":"floes km⁻²","titlePadding":42}}}},
{"transform":[{"filter":"false"}],"mark":{"type":"line"},"encoding":{
"x":{"field":"x","type":"quantitative","scale":{"domain":[0,53],"nice":false},"axis":{"orient":"top","values":[0,10,20,30,40,50],"labels":false,"title":null}},
"y":{"field":"y","type":"quantitative","scale":{"domain":[0,150],"nice":false},"axis":{"orient":"right","values":[0,50,100,150],"labels":false,"title":null}}}}]},
{"title":"(l)","width":128,"height":85,"data":{"name":"l"},"resolve":{"axis":{"x":"independent","y":"independent"}},
"encoding":{
"color":{"field":"s","type":"nominal","title":null,"scale":{"domain":["row 1(1)","row 4(7)","row 7(13)","row 10(20)","all rows"],"range":["#0000ff","#ff0000","#00e000","#ff00ff","#000000"]}},
"strokeDash":{"field":"s","type":"nominal","title":null,"scale":{"domain":["row 1(1)","row 4(7)","row 7(13)","row 10(20)","all rows"],"range":[[1,0],[1,0],[1,0],[1,0],[5,3]]}},
"strokeWidth":{"condition":{"test":"datum.s == 'all rows'","value":1.7},"value":1}},
"layer":[
{"mark":{"type":"line","clip":true},"encoding":{
"x":{"field":"x","type":"quantitative","scale":{"domain":[0,105],"nice":false},"axis":{"values":[0,20,40,60,80,100],"title":"a (m)"}},
"y":{"field":"y","type":"quantitative","scale":{"domain":[0,0.1],"nice":false},"axis":{"values":[0,0.05,0.1],"labelExpr":"datum.value == 0 ? '0' : format(datum.value, '.2f')","title":"𝒫(a)","titlePadding":47}}}},
{"transform":[{"filter":"false"}],"mark":{"type":"line"},"encoding":{
"x":{"field":"x","type":"quantitative","scale":{"domain":[0,105],"nice":false},"axis":{"orient":"top","values":[0,20,40,60,80,100],"labels":false,"title":null}},
"y":{"field":"y","type":"quantitative","scale":{"domain":[0,0.1],"nice":false},"axis":{"orient":"right","values":[0,0.05,0.1],"labels":false,"title":null}}}}]}
],
"config":{
"view":{"stroke":"black","strokeWidth":1},
"font":"DejaVu Serif",
"axis":{"labelFont":"DejaVu Serif","labelFontSize":13,"labelColor":"black","titleFont":"DejaVu Serif","titleFontSize":12,"titleFontWeight":"normal","titleColor":"black","domain":false,"grid":false,"tickColor":"black","tickSize":-4,"labelPadding":8,"labelOverlap":false,"labelFlush":false,"labelBound":false},
"axisY":{"minExtent":0,"maxExtent":0},
"axisX":{"titlePadding":5},
"title":{"font":"DejaVu Serif","fontSize":14,"fontStyle":"italic","fontWeight":"normal","anchor":"start","frame":"bounds","offset":7,"color":"black"},
"legend":{"orient":"none","legendX":152,"legendY":-69,"direction":"horizontal","strokeColor":"black","fillColor":"white","padding":6,"labelFont":"DejaVu Serif","labelFontSize":12,"labelColor":"black","symbolType":"stroke","symbolSize":180,"symbolStrokeWidth":1,"columnPadding":10,"labelOffset":6}
}
}
